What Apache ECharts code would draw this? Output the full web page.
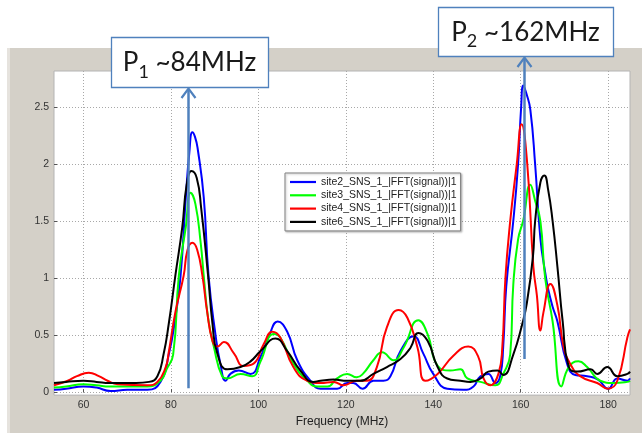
<!DOCTYPE html>
<html>
<head>
<meta charset="utf-8">
<script src="https://cdn.jsdelivr.net/npm/echarts@6/dist/echarts.min.js"></script>
<style>
  html, body { margin: 0; padding: 0; background: #fff; }
  #chart { width: 642px; height: 433px; }
</style>
</head>
<body>
<div id="chart"></div>
<script>
// tick labels
const xTicks = [60, 80, 100, 120, 140, 160, 180]
const yTicks = [0, 0.5, 1, 1.5, 2, 2.5]

const seriesNames = [
  'site2_SNS_1_|FFT(signal))|1',
  'site3_SNS_1_|FFT(signal))|1',
  'site4_SNS_1_|FFT(signal))|1',
  'site6_SNS_1_|FFT(signal))|1'
]

// site2 - blue
const site2Freq = [53.25, 56, 60, 63, 66.2, 70, 74.6, 77.6, 79.5, 81, 82.2, 83.4, 84.2, 84.9, 85.5, 86.1, 87.5, 88.6, 90.2, 91.3,
  92.5, 93.6, 95.5, 98.2, 100.5, 102.5, 104.4, 106.6, 108.9, 111.9, 114.2, 118, 120.3, 121.7, 123.8, 126.3, 128.6, 130.2, 132.5, 135.5,
  137.7, 140, 143.2, 146.9, 149.2, 150.8, 152.6, 154.2, 155.3, 156, 156.7, 158.3, 159.4, 160.1, 160.6, 161.3, 162.2, 163.3, 164.5, 165.6,
  166.3, 167.3, 168.4, 170.6, 172.5, 175.2, 177.7, 180, 182.1, 184.4, 185]
const site2Amp = [0.02, 0.03, 0.05, 0.04, 0.01, 0.02, 0.02, 0.09, 0.33, 0.65, 1.02, 1.71, 2.1, 2.28, 2.24, 2.14, 1.71, 1.02, 0.5, 0.25,
  0.1, 0.16, 0.19, 0.16, 0.31, 0.5, 0.62, 0.53, 0.28, 0.1, 0.03, 0.03, 0.08, 0.08, 0.03, 0.1, 0.1, 0.14, 0.36, 0.49,
  0.34, 0.16, 0.03, 0.02, 0.05, 0.14, 0.16, 0.08, 0.14, 0.4, 0.93, 1.5, 2.0, 2.5, 2.69, 2.62, 2.48, 2.0, 1.35, 1.05,
  0.9, 0.75, 0.62, 0.25, 0.15, 0.14, 0.11, 0.03, 0.12, 0.1, 0.12]

// site3 - green
const site3Freq = [53.25, 56, 60, 63, 66, 70, 74.6, 77.6, 79, 80.5, 81.8, 83.4, 84.5, 85.6, 86.8, 87.5, 88.5, 89.8, 91.7, 92.9,
  95.9, 98.6, 100.5, 103.5, 105, 108, 111.2, 113.5, 115.8, 118, 120.3, 122.5, 123.9, 126.3, 128.3, 130.9, 133.2, 136.6, 138.7, 141,
  143.9, 146.2, 147.8, 150.8, 154.2, 156, 157.6, 158.3, 159.4, 160.6, 162.2, 163.3, 164.5, 165.6, 167.3, 169.3, 171, 173.2, 175.2, 178.2,
  181.2, 184.4, 185]
const site3Amp = [0.04, 0.05, 0.07, 0.06, 0.05, 0.05, 0.05, 0.1, 0.2, 0.33, 1.02, 1.45, 1.75, 1.65, 1.31, 1.02, 0.65, 0.4, 0.14, 0.12,
  0.16, 0.14, 0.27, 0.51, 0.48, 0.25, 0.1, 0.05, 0.05, 0.12, 0.16, 0.13, 0.16, 0.28, 0.35, 0.28, 0.39, 0.63, 0.51, 0.23,
  0.19, 0.2, 0.12, 0.09, 0.06, 0.16, 0.33, 0.94, 1.34, 1.51, 1.82, 1.68, 1.5, 1.0, 0.62, 0.05, 0.22, 0.27, 0.22, 0.1,
  0.08, 0.09, 0.1]

// site4 - red
const site4Freq = [53.25, 56.4, 58.5, 61.2, 63.5, 65.5, 67.8, 74.6, 76.9, 78.8, 79.5, 81, 82.9, 83.8, 84.9, 86, 87.2, 88.3, 89.5, 90.6,
  92.1, 94.4, 96.6, 98.9, 101.2, 103.2, 105, 108, 111.2, 114.2, 117.2, 119.5, 122.5, 124.8, 127.1, 129.4, 132.1, 134.1, 136.4, 138.2,
  141, 144.6, 148, 150.3, 151.5, 153, 154.9, 155.8, 156.5, 157.6, 159.1, 160.2, 161.5, 162.9, 163.7, 164.5, 165.2, 166.8, 168.4, 169.8,
  171.3, 173.6, 177.5, 180, 182.1, 184.4, 185]
const site4Amp = [0.06, 0.1, 0.14, 0.17, 0.14, 0.1, 0.07, 0.06, 0.09, 0.22, 0.35, 0.7, 1.02, 1.25, 1.31, 1.25, 1.02, 0.7, 0.45, 0.4,
  0.44, 0.34, 0.23, 0.25, 0.42, 0.53, 0.48, 0.22, 0.1, 0.08, 0.09, 0.06, 0.1, 0.1, 0.22, 0.57, 0.72, 0.65, 0.39, 0.1,
  0.16, 0.32, 0.4, 0.31, 0.12, 0.06, 0.16, 0.4, 1.0, 1.5, 2.0, 2.35, 2.0, 1.1, 0.85, 0.54, 0.7, 0.95, 0.76, 0.4,
  0.25, 0.14, 0.08, 0.03, 0.1, 0.48, 0.55]

// site6 - black
const site6Freq = [53.25, 56, 60, 63, 66, 72, 75, 76.9, 78.3, 79.5, 81, 82.6, 83.6, 84.7, 85.9, 86.9, 88.5, 89.5, 90.6, 92.9,
  95.9, 98.2, 100.5, 103.9, 106.6, 109.6, 112.6, 114.2, 117.2, 120.3, 123.3, 126.3, 129.4, 132.5, 134.8, 136.6, 138.7, 141, 143.2, 146.2,
  148.5, 150.8, 152.6, 154.7, 156, 158.3, 160.3, 161.4, 162.8, 163.3, 164.5, 165.4, 166.3, 167.3, 168.4, 169.6, 171, 173, 176, 177.5,
  179.8, 182.1, 184.4, 185]
const site6Amp = [0.08, 0.09, 0.1, 0.09, 0.08, 0.08, 0.09, 0.14, 0.33, 0.6, 1.02, 1.45, 1.82, 1.94, 1.88, 1.62, 1.02, 0.6, 0.34, 0.2,
  0.22, 0.27, 0.36, 0.47, 0.36, 0.19, 0.09, 0.1, 0.11, 0.1, 0.1, 0.16, 0.22, 0.29, 0.39, 0.52, 0.45, 0.22, 0.12, 0.1,
  0.09, 0.12, 0.18, 0.19, 0.15, 0.33, 0.59, 0.78, 1.19, 1.5, 1.84, 1.9, 1.77, 1.5, 1.1, 0.62, 0.22, 0.18, 0.2, 0.16,
  0.22, 0.14, 0.16, 0.18]

// peak annotations
const peakSub = ['1', '2']
const peakText = [' ~84MHz', ' ~162MHz']
const arrowFreq = [84, 160.8]
const arrowBase = [0.035, 0.29]

const freqs = [site2Freq, site3Freq, site4Freq, site6Freq]
const amps = [site2Amp, site3Amp, site4Amp, site6Amp]
const lineColors = ['#0000ff', '#00ff00', '#ff0000', '#000000']

const chart = echarts.init(document.getElementById('chart'))

const series = seriesNames.map((name, k) => ({
  name,
  type: 'line',
  data: freqs[k].map((f, i) => [f, amps[k][i]]),
  symbol: 'none',
  smooth: 0.5,
  lineStyle: { width: 2, color: lineColors[k] },
  itemStyle: { color: lineColors[k] },
  z: 3 + k
}))

const tickFont = { color: '#333', fontSize: 10.5, fontFamily: 'Liberation Sans' }

chart.setOption({
  animation: false,
  backgroundColor: '#ffffff',
  grid: {
    left: 54, right: 12, top: 71, bottom: 31,
    show: true, backgroundColor: '#ffffff', borderColor: '#b4b4b4', borderWidth: 1
  },
  xAxis: {
    type: 'value', min: 53.25, max: 185,
    name: 'Frequency (MHz)', nameLocation: 'middle', nameGap: 16,
    nameTextStyle: { color: '#222', fontSize: 12, fontFamily: 'Liberation Sans' },
    axisLine: { show: false },
    axisTick: { inside: true, length: 3, customValues: xTicks, lineStyle: { color: '#555' } },
    axisLabel: { customValues: xTicks, margin: 5, ...tickFont },
    splitLine: { show: true, lineStyle: { color: '#a8a8a8', type: [1, 2] } }
  },
  yAxis: {
    type: 'value', min: -0.026, max: 2.818,
    axisLine: { show: false },
    axisTick: { inside: true, length: 3, customValues: yTicks, lineStyle: { color: '#555' } },
    axisLabel: { customValues: yTicks, margin: 5, ...tickFont },
    splitLine: { show: true, lineStyle: { color: '#a8a8a8', type: [1, 2] } }
  },
  legend: {
    orient: 'vertical', left: 285, top: 173,
    padding: [3, 4, 3, 5],
    icon: 'rect',
    itemWidth: 26, itemHeight: 2.2, itemGap: 1.3,
    backgroundColor: '#ffffff', borderColor: '#808080', borderWidth: 1,
    shadowColor: 'rgba(0,0,0,0.25)', shadowBlur: 2, shadowOffsetX: 1, shadowOffsetY: 1,
    selectedMode: false,
    textStyle: { color: '#222', fontSize: 10.5, lineHeight: 12, fontFamily: 'Liberation Sans' },
    data: seriesNames
  },
  series
})

// figure panel, annotation boxes and arrows
const boxes = [
  { x: 111, y: 37, w: 157, h: 50 },
  { x: 438, y: 7, w: 175, h: 49 }
]
const noteColor = '#4f81bd'
const graphics = [
  { type: 'rect', id: 'panel', z: -100, shape: { x: 7, y: 48, width: 635, height: 385 }, style: { fill: '#d4d0c8' } },
  { type: 'rect', id: 'edge', z: -99, shape: { x: 7, y: 48, width: 3, height: 385 }, style: { fill: '#e6e3de' } }
]
boxes.forEach((b, k) => {
  const base = chart.convertToPixel({ gridIndex: 0 }, [arrowFreq[k], arrowBase[k]])
  const ax = Math.round(base[0]) + 0.5
  const top = b.y + b.h
  graphics.push({
    type: 'polyline', id: 'shaft' + k, z: 200,
    shape: { points: [[ax, base[1]], [ax, top + 2]] },
    style: { stroke: noteColor, lineWidth: 2.5, fill: null }
  })
  graphics.push({
    type: 'polyline', id: 'head' + k, z: 200,
    shape: { points: [[ax - 7, top + 11], [ax, top + 1.5], [ax + 7, top + 11]] },
    style: { stroke: noteColor, lineWidth: 2.2, fill: null }
  })
  graphics.push({
    type: 'rect', id: 'box' + k, z: 201,
    shape: { x: b.x + 0.5, y: b.y + 0.5, width: b.w, height: b.h },
    style: { fill: '#ffffff', stroke: noteColor, lineWidth: 1.3 }
  })
  graphics.push({
    type: 'text', id: 'label' + k, z: 202,
    x: b.x + b.w / 2, y: b.y + b.h / 2 + 1,
    style: {
      text: '{p|P}{s|' + peakSub[k] + '}{p|' + peakText[k] + '}',
      align: 'center', verticalAlign: 'middle',
      rich: {
        p: { fontSize: 26, fontFamily: 'Lato', fill: '#1a1a1a', lineHeight: 30 },
        s: { fontSize: 18, fontFamily: 'Lato', fill: '#1a1a1a', lineHeight: 18, padding: [18, 0, 0, 0] }
      }
    }
  })
})
chart.setOption({ graphic: graphics })
</script>
</body>
</html>
